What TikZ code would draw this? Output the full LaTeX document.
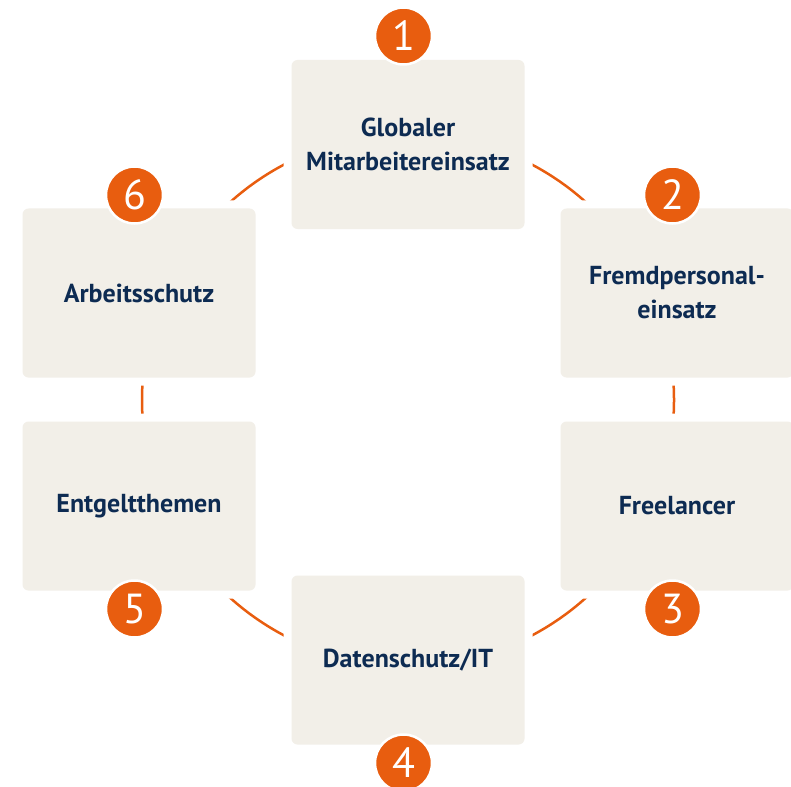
\documentclass[tikz,border=0pt]{standalone}
\usepackage{fontspec}
\setmainfont{PT Sans}
\definecolor{ringorange}{HTML}{E85D0F}
\definecolor{boxbeige}{HTML}{F2EFE8}
\definecolor{textnavy}{HTML}{0D2B52}

\begin{document}
\begin{tikzpicture}[x=1pt, y=-1pt,
		box/.style={rectangle, fill=boxbeige, rounded corners=6pt, minimum width=233pt, minimum height=169pt, inner sep=0pt, align=center, text=textnavy, font=\fontsize{26}{34}\selectfont\bfseries, preaction={draw=white, line width=16pt}},
		badge/.style={circle, fill=ringorange, draw=white, line width=2.5pt, minimum size=57pt, inner sep=0pt, text=white, font=\fontsize{42}{42}\selectfont}]
		\useasboundingbox (0,0) rectangle (791,786);
		\clip (0,0) rectangle (791,786);
%		\draw[help lines] (0,0) grid[step=50pt] (791,786);
		\path (408,400) coordinate (hub);
		\draw[ringorange, line width=2.5pt] (hub) circle [radius=266pt];

		\path (408,144.5) node(mitarbeiter) [box] {Globaler\\Mitarbeitereinsatz};
		\path (677,293) node(fremdpersonal) [box] {Fremdpersonal-\\einsatz};
		\path (677,506) node(freelancer) [box] {Freelancer};
		\path (408,660) node(datenschutz) [box] {Datenschutz/IT};
		\path (139,506) node(entgelt) [box] {Entgeltthemen};
		\path (139,293) node(arbeitsschutz) [box] {Arbeitsschutz};

		\path (403.5,36) node(one) [badge] {1};
		\path (672.5,195) node(two) [badge] {2};
		\path (672.5,609) node(three) [badge] {3};
		\path (403.5,763) node(four) [badge] {4};
		\path (134.5,609) node(five) [badge] {5};
		\path (134.5,195) node(six) [badge] {6};
	\end{tikzpicture}
\end{document}
